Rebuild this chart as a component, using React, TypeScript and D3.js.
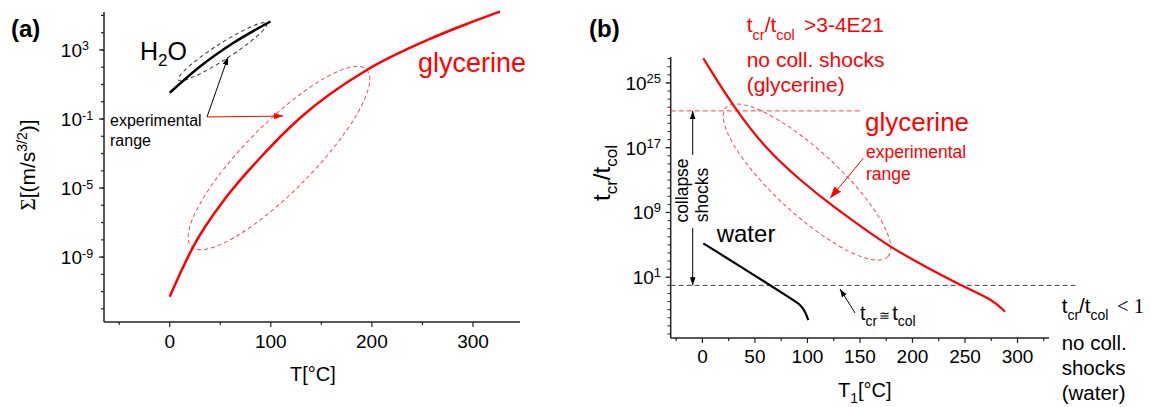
import React from "react";
import * as d3 from "d3";

// ---------- data ----------
// Panel (a): Sigma [(m/s^{3/2})] vs T [°C]
const glyA_T = [0, 11.9, 23.3, 56.4, 89.3, 128.9, 194.9, 257.5, 293.8, 326.7];
const glyA_S = [5.1e-12, 1.8e-10, 4.0e-9, 3.2e-6, 5.5e-4, 0.115, 69, 4.4e3, 3.2e4, 1.66e5];
const h2oA_T = [0, 29.7, 62.4, 99.7];
const h2oA_S = [3.3, 107, 2450, 4.47e4];

// Panel (b): t_cr/t_col vs T1 [°C]
const glyB_T = [0.8, 29.4, 61.2, 92.9, 124.6, 152.0, 178.6, 213.6, 248.4, 277.0, 288.1];
const glyB_R = [1.1e28, 1.15e22, 5.2e16, 1.0e13, 5.1e9, 1.5e7, 5.5e4, 162, 0.69, 0.0155, 5.6e-4];
const watB_T = [0.8, 26.3, 51.7, 86.5, 92.9, 97.7, 100.8];
const watB_R = [1.55e5, 1.35e3, 11.7, 0.0155, 4.4e-3, 6.8e-4, 5.2e-5];

const critRatio = 3.5e21; // 3-4E21
const critEndT = 150;
const equalRatio = 1;
const equalEndT = 355;

// ticks
const xTicksA = [0, 100, 200, 300];
const xMinorA = [-50, 50, 150, 250];
const yTicksAExp = [-9, -5, -1, 3];
const yMinorAExp = d3.range(-12, 6);
const xTicksB = [0, 50, 100, 150, 200, 250, 300];
const xMinorB = [-25, 25, 75, 125, 175, 225, 275, 325];
const yTicksBExp = [1, 9, 17, 25];
const yMinorBExp = d3.range(-6, 29);

// ---------- scales ----------
const xA = d3.scaleLinear().domain([-65, 346.5]).range([104, 520]);
const yA = d3.scaleLog().domain([Math.pow(10, -12.76), Math.pow(10, 5.2)]).range([322, 12]);
const xB = d3.scaleLinear().domain([-30.2, 330]).range([670.7, 1049]);
const yB = d3.scaleLog().domain([Math.pow(10, -6.5), Math.pow(10, 28.2)]).range([338, 57]);

const SANS = "'Liberation Sans', Arial, sans-serif";
const SERIF = "'Liberation Serif', 'Times New Roman', serif";
const RED = "#f00";
const DRED = "#f44";
const AX = "#222";

function zip(a: number[], b: number[]): [number, number][] {
  return a.map((v, i) => [v, b[i]] as [number, number]);
}

export default function App() {
  const lineA = d3
    .line<[number, number]>()
    .x((d) => xA(d[0]))
    .y((d) => yA(d[1]))
    .curve(d3.curveMonotoneX);
  const lineB = d3
    .line<[number, number]>()
    .x((d) => xB(d[0]))
    .y((d) => yB(d[1]))
    .curve(d3.curveBasis);

  const p10 = (e: number) => Math.pow(10, e);

  // annotation anchors (data coordinates)
  const h2oEll = { cx: xA(52.2), cy: yA(p10(2.9)), rx: 52.5, ry: 8, ang: -32.7 };
  const glyEllA = { cx: xA(108.1), cy: yA(p10(-3.26)), rx: 124.5, ry: 34, ang: -45.3 };
  const glyEllB = { cx: xB(99.6), cy: yB(p10(12.76)), rx: 110, ry: 32, ang: 42.6 };

  return (
    <svg
      width={1151}
      height={407}
      style={{ position: "absolute", left: 0, top: 0, background: "#fff" }}
      fontFamily={SANS}
    >
      <defs>
        <marker id="ahK" viewBox="0 0 10 10" refX="10" refY="5" markerWidth="8" markerHeight="8"
          orient="auto" markerUnits="userSpaceOnUse">
          <path d="M0,1.5 L10,5 L0,8.5 z" fill="#000" />
        </marker>
        <marker id="ahR" viewBox="0 0 10 10" refX="10" refY="5" markerWidth="9" markerHeight="9"
          orient="auto" markerUnits="userSpaceOnUse">
          <path d="M0,1.5 L10,5 L0,8.5 z" fill={RED} />
        </marker>
        <marker id="ahR2" viewBox="0 0 10 10" refX="10" refY="5" markerWidth="12" markerHeight="12"
          orient="auto" markerUnits="userSpaceOnUse">
          <path d="M0,1.5 L10,5 L0,8.5 z" fill={RED} />
        </marker>
      </defs>

      {/* ================= Panel (a) ================= */}
      <text x={11} y={37} fontSize={24} fontWeight="bold">(a)</text>

      {/* axes */}
      <line x1={104} x2={104} y1={12} y2={322} stroke={AX} strokeWidth={1.5} />
      <line x1={104} x2={520} y1={322} y2={322} stroke={AX} strokeWidth={1.5} />
      {yMinorAExp.map((e) => (
        <line key={"yma" + e} x1={101} x2={104} y1={yA(p10(e))} y2={yA(p10(e))} stroke={AX} strokeWidth={1.2} />
      ))}
      {yTicksAExp.map((e) => (
        <g key={"yta" + e}>
          <line x1={99} x2={104} y1={yA(p10(e))} y2={yA(p10(e))} stroke={AX} strokeWidth={1.2} />
          <text x={82} y={yA(p10(e)) + 7} fontSize={19} textAnchor="end">10</text>
          <text x={82} y={yA(p10(e)) + 0.5} fontSize={12.5} textAnchor="start">{e < 0 ? "-" + Math.abs(e) : String(e)}</text>
        </g>
      ))}
      {xMinorA.map((t) => (
        <line key={"xma" + t} x1={xA(t)} x2={xA(t)} y1={322} y2={325} stroke={AX} strokeWidth={1.2} />
      ))}
      {xTicksA.map((t) => (
        <g key={"xta" + t}>
          <line x1={xA(t)} x2={xA(t)} y1={322} y2={327} stroke={AX} strokeWidth={1.2} />
          <text x={xA(t)} y={348} fontSize={19} textAnchor="middle">{t}</text>
        </g>
      ))}
      <text x={290} y={381} fontSize={20}>T[°C]</text>
      <text transform="translate(35,165) rotate(-90)" fontSize={21} textAnchor="middle">
        <tspan fontFamily={SERIF}>Σ</tspan>
        <tspan>[(m/s</tspan>
        <tspan dy={-8} fontSize={14}>3/2</tspan>
        <tspan dy={8}>)]</tspan>
      </text>

      {/* ellipses */}
      <ellipse cx={h2oEll.cx} cy={h2oEll.cy} rx={h2oEll.rx} ry={h2oEll.ry}
        transform={`rotate(${h2oEll.ang} ${h2oEll.cx} ${h2oEll.cy})`}
        fill="none" stroke="#333" strokeWidth={1} strokeDasharray="4,3" />
      <ellipse cx={glyEllA.cx} cy={glyEllA.cy} rx={glyEllA.rx} ry={glyEllA.ry}
        transform={`rotate(${glyEllA.ang} ${glyEllA.cx} ${glyEllA.cy})`}
        fill="none" stroke={DRED} strokeWidth={1} strokeDasharray="4,3" />

      {/* curves */}
      <path d={lineA(zip(h2oA_T, h2oA_S)) || ""} fill="none" stroke="#000" strokeWidth={2.5} />
      <path d={lineA(zip(glyA_T, glyA_S)) || ""} fill="none" stroke={RED} strokeWidth={2.5} />

      {/* annotations */}
      <text x={140} y={60} fontSize={25}>
        H<tspan dy={6} fontSize={17}>2</tspan><tspan dy={-6}>O</tspan>
      </text>
      <text x={418} y={72} fontSize={27} fill={RED}>glycerine</text>
      <text x={110} y={126} fontSize={16}>experimental</text>
      <text x={110} y={146} fontSize={16}>range</text>
      <line x1={xA(36.9)} y1={yA(p10(-0.88))} x2={xA(57.7)} y2={yA(p10(2.59))}
        stroke="#000" strokeWidth={1} markerEnd="url(#ahK)" />
      <line x1={xA(36.9)} y1={yA(p10(-0.88))} x2={xA(112.1)} y2={yA(p10(-0.83))}
        stroke={RED} strokeWidth={1} markerEnd="url(#ahR)" />

      {/* ================= Panel (b) ================= */}
      <text x={589} y={37} fontSize={24} fontWeight="bold">(b)</text>

      <line x1={670.7} x2={670.7} y1={57} y2={338} stroke={AX} strokeWidth={1.5} />
      <line x1={670.7} x2={1049} y1={338} y2={338} stroke={AX} strokeWidth={1.5} />
      {yMinorBExp.map((e) => (
        <line key={"ymb" + e} x1={667.5} x2={670.7} y1={yB(p10(e))} y2={yB(p10(e))} stroke={AX} strokeWidth={1} />
      ))}
      {yTicksBExp.map((e) => (
        <g key={"ytb" + e}>
          <line x1={665.5} x2={670.7} y1={yB(p10(e))} y2={yB(p10(e))} stroke={AX} strokeWidth={1.2} />
          <text x={661} y={yB(p10(e)) + 7} fontSize={19} textAnchor="end">
            10<tspan dy={-7} fontSize={13}>{e}</tspan>
          </text>
        </g>
      ))}
      {xMinorB.map((t) => (
        <line key={"xmb" + t} x1={xB(t)} x2={xB(t)} y1={338} y2={341} stroke={AX} strokeWidth={1.2} />
      ))}
      {xTicksB.map((t) => (
        <g key={"xtb" + t}>
          <line x1={xB(t)} x2={xB(t)} y1={338} y2={343} stroke={AX} strokeWidth={1.2} />
          <text x={xB(t)} y={363} fontSize={19} textAnchor="middle">{t}</text>
        </g>
      ))}
      <text x={838} y={397} fontSize={20}>
        T<tspan dy={6} fontSize={14}>1</tspan><tspan dy={-6}>[°C]</tspan>
      </text>
      <text transform="translate(610,201) rotate(-90)" fontSize={24} textAnchor="start">
        t<tspan dy={7} fontSize={17}>cr</tspan><tspan dy={-7}>/t</tspan><tspan dy={7} fontSize={17}>col</tspan>
      </text>

      {/* threshold lines */}
      <line x1={670.7} x2={xB(critEndT)} y1={yB(critRatio)} y2={yB(critRatio)}
        stroke={DRED} strokeWidth={1} strokeDasharray="5,3" />
      <line x1={670.7} x2={xB(equalEndT)} y1={yB(equalRatio)} y2={yB(equalRatio)}
        stroke="#444" strokeWidth={1} strokeDasharray="5,3" />

      {/* ellipse */}
      <ellipse cx={glyEllB.cx} cy={glyEllB.cy} rx={glyEllB.rx} ry={glyEllB.ry}
        transform={`rotate(${glyEllB.ang} ${glyEllB.cx} ${glyEllB.cy})`}
        fill="none" stroke={DRED} strokeWidth={1} strokeDasharray="4,3" />

      {/* curves */}
      <path d={lineB(zip(glyB_T, glyB_R)) || ""} fill="none" stroke={RED} strokeWidth={2.2} />
      <path d={lineB(zip(watB_T, watB_R)) || ""} fill="none" stroke="#000" strokeWidth={2.2} />

      {/* collapse shocks */}
      <text transform="translate(688,190.5) rotate(-90)" fontSize={17.5} textAnchor="middle">collapse</text>
      <text transform="translate(708,195) rotate(-90)" fontSize={17.5} textAnchor="middle">shocks</text>
      <line x1={xB(-9.25)} x2={xB(-9.25)} y1={yB(p10(16.1))} y2={yB(critRatio)}
        stroke="#000" strokeWidth={1} markerEnd="url(#ahK)" />
      <line x1={xB(-9.25)} x2={xB(-9.25)} y1={yB(p10(7.1))} y2={yB(equalRatio)}
        stroke="#000" strokeWidth={1} markerEnd="url(#ahK)" />

      {/* top red annotation */}
      <text x={746.7} y={32} fontSize={21} fill={RED}>
        t<tspan dy={8} fontSize={14.5}>cr</tspan><tspan dy={-8}>/t</tspan><tspan dy={8} fontSize={14.5}>col</tspan>
        <tspan x={804} dy={-8}>&gt;3-4E21</tspan>
      </text>
      <text x={746.7} y={67} fontSize={21} fill={RED}>no coll. shocks</text>
      <text x={746.7} y={92} fontSize={21} fill={RED}>(glycerine)</text>

      <text x={865} y={131} fontSize={26} fill={RED}>glycerine</text>
      <text x={866} y={158} fontSize={17.5} fill={RED}>experimental</text>
      <text x={866} y={180} fontSize={17.5} fill={RED}>range</text>
      <line x1={xB(153.2)} y1={yB(p10(15.69))} x2={xB(121.5)} y2={yB(p10(10.75))}
        stroke={RED} strokeWidth={1} markerEnd="url(#ahR2)" />

      <text x={716.7} y={242} fontSize={24}>water</text>

      {/* t_cr ~= t_col */}
      <text x={860} y={320} fontSize={20}>
        t<tspan dy={6} fontSize={14}>cr</tspan>
        <tspan dy={-6} fontSize={13} dx={2}>≅</tspan>
        <tspan fontSize={20} dx={2}>t</tspan><tspan dy={6} fontSize={14}>col</tspan>
      </text>
      <line x1={xB(145.3)} y1={yB(p10(-3.41))} x2={xB(131)} y2={yB(p10(-0.45))}
        stroke="#000" strokeWidth={1} markerEnd="url(#ahK)" />

      {/* right side text */}
      <text x={1061.7} y={313} fontSize={20.5}>
        t<tspan dy={7} fontSize={14}>cr</tspan><tspan dy={-7}>/t</tspan><tspan dy={7} fontSize={14}>col</tspan>
        <tspan x={1117} dy={-7} fontFamily={SERIF}>&lt; 1</tspan>
      </text>
      <text x={1061.7} y={350} fontSize={20.5}>no coll.</text>
      <text x={1061.7} y={375} fontSize={20.5}>shocks</text>
      <text x={1061.7} y={400} fontSize={20.5}>(water)</text>
    </svg>
  );
}
